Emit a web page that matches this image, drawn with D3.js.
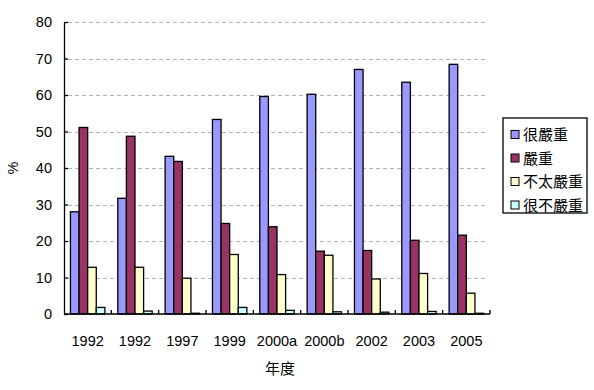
<!DOCTYPE html>
<html>
<head>
<meta charset="utf-8">
<script src="https://cdn.jsdelivr.net/npm/d3@7"></script>
<style>
  body { margin: 0; background: #fff; }
  svg text { font-family: "Liberation Sans", Arial, sans-serif; fill: #000; }
  .cjk { font-family: "Noto Sans CJK TC", "Noto Sans CJK SC", sans-serif; }
</style>
</head>
<body>
<svg id="chart"></svg>
<script>
// Data
const years = ['1992', '1992 ', '1997', '1999', '2000a', '2000b', '2002', '2003', '2005'];
const yearLabels = ['1992', '1992', '1997', '1999', '2000a', '2000b', '2002', '2003', '2005'];
const seriesNames = ['很嚴重', '嚴重', '不太嚴重', '很不嚴重'];
const seriesColors = ['#9999ff', '#993366', '#ffffcc', '#ccffff'];
const veryBad = [28, 31.7, 43.2, 53.3, 59.6, 60.2, 67.0, 63.5, 68.4];
const bad = [51.1, 48.7, 41.8, 24.8, 23.9, 17.2, 17.4, 20.2, 21.6];
const notVeryBad = [12.8, 12.8, 9.8, 16.3, 10.8, 16.1, 9.6, 11.1, 5.7];
const notBadAtAll = [1.8, 0.8, 0.2, 1.8, 1.0, 0.6, 0.5, 0.7, 0.2];
const yTicks = [0, 10, 20, 30, 40, 50, 60, 70, 80];

const seriesValues = [veryBad, bad, notVeryBad, notBadAtAll];

const width = 594, height = 390;
const plot = {left: 64, right: 490, top: 22, bottom: 314};

const svg = d3.select('#chart')
    .attr('width', width)
    .attr('height', height);

const x = d3.scaleBand()
    .domain(years)
    .range([plot.left, plot.right]);

const inner = d3.scaleBand()
    .domain(d3.range(seriesNames.length))
    .range([0, x.bandwidth()])
    .paddingInner(0)
    .paddingOuter(0.75);

const y = d3.scaleLinear()
    .domain([0, 80])
    .range([plot.bottom, plot.top]);

// dashed grid lines
svg.append('g')
    .selectAll('line')
    .data(yTicks.filter(d => d > 0))
    .join('line')
    .attr('x1', plot.left + 4)
    .attr('x2', plot.right - 3)
    .attr('y1', d => Math.round(y(d)) + 0.5)
    .attr('y2', d => Math.round(y(d)) + 0.5)
    .attr('stroke', '#b4b4b4')
    .attr('stroke-dasharray', '4,3');

// bars
const groups = svg.append('g')
    .selectAll('g')
    .data(years)
    .join('g')
    .attr('transform', d => `translate(${x(d)},0)`);

groups.selectAll('rect')
    .data((d, i) => seriesValues.map((vals, s) => ({s: s, v: vals[i]})))
    .join('rect')
    .attr('x', d => inner(d.s))
    .attr('y', d => y(d.v))
    .attr('width', inner.bandwidth())
    .attr('height', d => y(0) - y(d.v))
    .attr('fill', d => seriesColors[d.s])
    .attr('stroke', '#000')
    .attr('stroke-width', 1.3);

// y axis
const yAxis = svg.append('g')
    .attr('transform', `translate(${plot.left},0)`)
    .call(d3.axisLeft(y).tickValues(yTicks).tickSizeInner(-4).tickSizeOuter(0).tickPadding(12));
yAxis.select('.domain').attr('stroke', '#000').attr('stroke-width', 1.3);
yAxis.selectAll('.tick line').attr('stroke', '#000').attr('stroke-width', 1.3);
yAxis.selectAll('text')
    .attr('font-size', 14.5)
    .attr('font-family', '"Liberation Sans", Arial, sans-serif');

// x axis with ticks between categories
const xAxis = svg.append('g')
    .attr('transform', `translate(0,${plot.bottom})`);
xAxis.append('line')
    .attr('x1', plot.left)
    .attr('x2', plot.right)
    .attr('stroke', '#000')
    .attr('stroke-width', 1.3);
xAxis.selectAll('.sep')
    .data(years)
    .join('line')
    .attr('class', 'sep')
    .attr('x1', d => x(d) + x.bandwidth())
    .attr('x2', d => x(d) + x.bandwidth())
    .attr('y1', 0)
    .attr('y2', -4)
    .attr('stroke', '#000')
    .attr('stroke-width', 1.3);
xAxis.selectAll('.lbl')
    .data(years)
    .join('text')
    .attr('class', 'lbl')
    .attr('x', d => x(d) + x.bandwidth() / 2)
    .attr('y', 32)
    .attr('text-anchor', 'middle')
    .attr('font-size', 14.5)
    .text((d, i) => yearLabels[i]);

// axis titles
svg.append('text')
    .attr('class', 'cjk')
    .attr('x', 280)
    .attr('y', 374)
    .attr('text-anchor', 'middle')
    .attr('font-size', 15)
    .text('年度');

svg.append('text')
    .attr('transform', 'translate(18,168) rotate(-90)')
    .attr('text-anchor', 'middle')
    .attr('font-size', 14)
    .text('%');

// legend
const legend = svg.append('g')
    .attr('transform', 'translate(503,118)');
legend.append('rect')
    .attr('width', 84)
    .attr('height', 95)
    .attr('fill', '#fff')
    .attr('stroke', '#000')
    .attr('stroke-width', 1.3);

const items = legend.selectAll('.item')
    .data(seriesNames)
    .join('g')
    .attr('class', 'item')
    .attr('transform', (d, i) => `translate(0,${17 + i * 23.5})`);
items.append('rect')
    .attr('x', 8)
    .attr('y', -4.5)
    .attr('width', 8)
    .attr('height', 8)
    .attr('fill', (d, i) => seriesColors[i])
    .attr('stroke', '#000')
    .attr('stroke-width', 1);
items.append('text')
    .attr('class', 'cjk')
    .attr('x', 20)
    .attr('dy', '0.35em')
    .attr('font-size', 15)
    .text(d => d);
</script>
</body>
</html>
